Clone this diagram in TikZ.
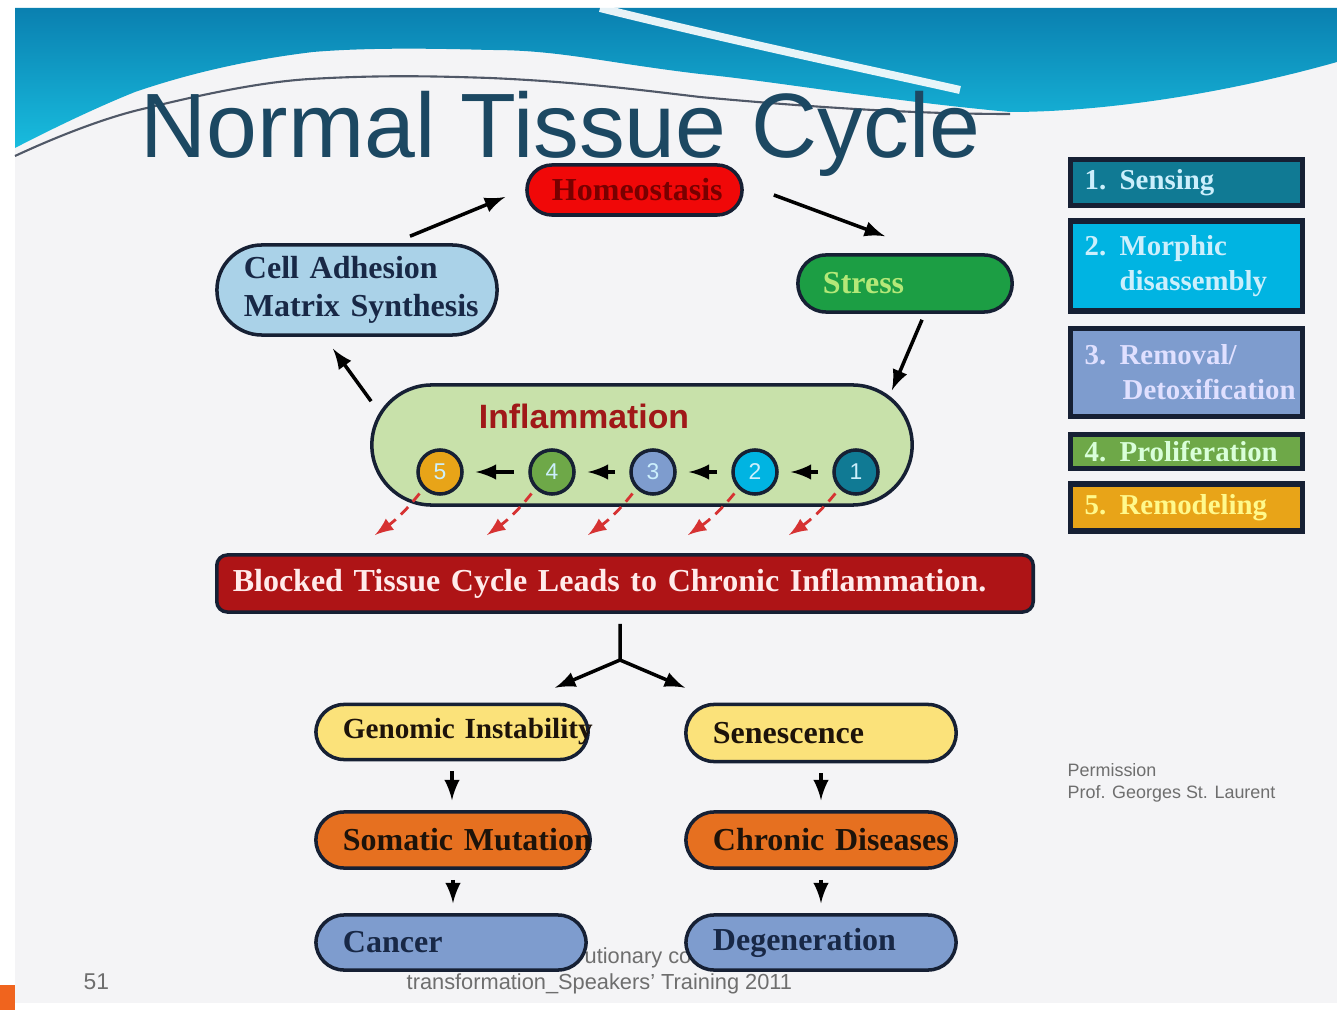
\documentclass[tikz,border=0pt]{standalone}
\usepackage{fontspec}
\setmainfont{Liberation Serif}
\setsansfont{Liberation Sans}
\usepackage{xcolor}
\usetikzlibrary{arrows}
\usetikzlibrary{calc, positioning}
\definecolor{slidebg}{RGB}{244,244,246}
\definecolor{wavedark}{RGB}{10,128,176}
\definecolor{wavelight}{RGB}{24,188,222}
\definecolor{titleblue}{RGB}{28,72,98}
\definecolor{pillline}{RGB}{22,32,52}
\definecolor{homred}{RGB}{240,8,8}
\definecolor{homtext}{RGB}{120,0,0}
\definecolor{celblue}{RGB}{170,210,232}
\definecolor{celtext}{RGB}{24,40,70}
\definecolor{stressgreen}{RGB}{28,158,68}
\definecolor{stresstext}{RGB}{180,232,120}
\definecolor{inflgreen}{RGB}{200,225,170}
\definecolor{infltext}{RGB}{160,24,24}
\definecolor{blockred}{RGB}{174,20,22}
\definecolor{genyellow}{RGB}{251,226,122}
\definecolor{somorange}{RGB}{230,112,32}
\definecolor{cancblue}{RGB}{126,156,206}
\definecolor{c1col}{RGB}{16,122,148}
\definecolor{c2col}{RGB}{0,180,226}
\definecolor{c3col}{RGB}{126,156,206}
\definecolor{c4col}{RGB}{110,168,72}
\definecolor{c5col}{RGB}{232,164,24}
\definecolor{dashred}{RGB}{214,50,50}
\definecolor{footgray}{RGB}{110,110,110}
\definecolor{tab}{RGB}{240,100,30}

\hyphenpenalty=10000
\exhyphenpenalty=10000
\newcommand\lblfont{\fontsize{9.1}{11}\selectfont\bfseries}
\newcommand\legfont{\fontsize{8.2}{10}\selectfont\bfseries}

\tikzset{
  pill/.style={rectangle, draw=pillline, line width=1pt, rounded corners=0.28cm,
    inner xsep=0.27cm, inner ysep=0pt, align=left, font=\lblfont},
  legbox/.style={rectangle, draw=pillline, line width=1.5pt, text width=2.04cm,
    inner xsep=0.14cm, inner ysep=0pt, align=left, font=\legfont},
  circ/.style={circle, draw=pillline, line width=1pt, minimum size=0.44cm, inner sep=0pt,
    font=\fontsize{6.5}{6.5}\selectfont\sffamily, text=white!80!cyan},
  cyc/.style={-latex, line width=1pt},
  dn/.style={-latex, line width=1pt, shorten <=0.1cm, shorten >=0.1cm},
  redarr/.style={-latex, densely dashed, draw=dashred, line width=0.8pt},
  foot/.style={font=\fontsize{6.2}{7}\selectfont\sffamily, text=footgray, inner sep=0pt}
}

\begin{document}
\begin{tikzpicture}[x=0.01cm, y=-0.01cm]
\useasboundingbox (0,0) rectangle (1337,1010);

% slide background
\fill[white] (0,0) rectangle (1337,1010);
\fill[slidebg] (15,8) rectangle (1337,1003);
\fill[tab] (0,985) rectangle (15,1010);

% wave banner
\shade[top color=wavedark, bottom color=wavelight] (15,8) -- (1337,8) -- (1337,62)
  .. controls (1220,95) and (1100,112) .. (1010,112)
  .. controls (880,100) and (780,82) .. (700,74)
  .. controls (600,62) and (560,50) .. (490,50)
  .. controls (420,48) and (360,48) .. (313,52)
  .. controls (230,62) and (170,80) .. (135,92)
  .. controls (90,110) and (40,135) .. (15,148) -- cycle;
\draw[white, line width=0.08cm, opacity=0.9] (600,8) .. controls (750,45) and (880,72) .. (960,90);
\draw[pillline!75, line width=0.6pt] (15,156) .. controls (60,135) and (110,116) .. (147,108)
  .. controls (200,95) and (260,82) .. (310,79)
  .. controls (380,75) and (430,76) .. (490,78)
  .. controls (580,82) and (640,90) .. (700,97)
  .. controls (820,108) and (920,114) .. (1010,114);

\node[anchor=base west, inner sep=0pt, font=\fontsize{26}{28}\selectfont\sffamily, text=titleblue]
  (title) at (140,158) {Normal Tissue Cycle};

% cycle
\node[pill, fill=homred, text=homtext, text width=1.65cm, inner xsep=0.25cm,
  minimum height=0.5cm, rounded corners=0.25cm] (homeo) at (634.5,190) {Homeostasis};
\node[pill, fill=celblue, text=celtext, text width=2.26cm, minimum height=0.9cm,
  rounded corners=0.45cm] (celladh) at (357,290) {Cell~Adhesion\\Matrix~Synthesis};
\node[pill, fill=stressgreen, text=stresstext, text width=1.64cm, inner xsep=0.25cm,
  minimum height=0.57cm] (stress) at (905,283.5) {Stress};
\node[pill, fill=inflgreen, minimum width=5.4cm, minimum height=1.2cm,
  rounded corners=0.6cm] (infl) at (642,445) {};
\node[font=\fontsize{9.6}{11}\selectfont\sffamily\bfseries, text=infltext] (infltxt) at (584,416) {Inflammation};

\node[circ, fill=c1col] (c1) at (856,472) {1};
\node[circ, fill=c2col] (c2) at (755,472) {2};
\node[circ, fill=c3col] (c3) at (653,472) {3};
\node[circ, fill=c4col] (c4) at (552,472) {4};
\node[circ, fill=c5col] (c5) at (440,472) {5};

\draw[-latex, line width=1pt] ([xshift=-0.14cm]c1.west) -- ([xshift=0.12cm]c2.east);
\draw[-latex, line width=1pt] ([xshift=-0.14cm]c2.west) -- ([xshift=0.12cm]c3.east);
\draw[-latex, line width=1pt] ([xshift=-0.14cm]c3.west) -- ([xshift=0.12cm]c4.east);
\draw[-latex, line width=1pt] ([xshift=-0.14cm]c4.west) -- ([xshift=0.12cm]c5.east);

\draw[cyc] ($(celladh.north)+(53,-7)$) -- ($(homeo.west)+(-20,7)$);
\draw[cyc] ($(homeo.east)+(30,5)$) -- ($(stress.north)+(-20,-17)$);
\draw[cyc] ($(stress.south)+(17,6)$) -- ($(infl.north east)+(-22,7)$);
\draw[cyc] ($(infl.north west)+(1,18)$) -- ($(celladh.south)+(-24,12)$);

% blocked steps
\coordinate (s1) at (789,535);
\coordinate (s2) at (688,535);
\coordinate (s3) at (588,535);
\coordinate (s4) at (487,535);
\coordinate (s5) at (375,535);
\draw[redarr, shorten <=0.06cm] (c1.225) to[bend left=8] (s1);
\draw[redarr, shorten <=0.06cm] (c2.225) to[bend left=8] (s2);
\draw[redarr, shorten <=0.06cm] (c3.225) to[bend left=8] (s3);
\draw[redarr, shorten <=0.06cm] (c4.225) to[bend left=8] (s4);
\draw[redarr, shorten <=0.06cm] (c5.225) to[bend left=8] (s5);

\node[pill, fill=blockred, text=white!92!red, rounded corners=3pt, text width=7.84cm,
  inner xsep=0.16cm, minimum height=0.57cm] (block) at (625,583.5)
  {Blocked Tissue Cycle Leads to Chronic Inflammation.};

% outcomes
\node[pill, fill=genyellow, text=black!85!brown, text width=2.18cm, minimum height=0.55cm,
  font=\fontsize{8.3}{10}\selectfont\bfseries] (gen) at (452,732) {Genomic~Instability};
\node[pill, fill=genyellow, text=black!85!brown, text width=2.16cm, minimum height=0.57cm] (sen) at (821,733) {Senescence};
\node[pill, fill=somorange, text=black!85!brown, text width=2.20cm, minimum height=0.56cm] (som) at (453,840) {Somatic~Mutation};
\node[pill, fill=somorange, text=black!85!brown, text width=2.16cm, minimum height=0.56cm] (chr) at (821,840) {Chronic~Diseases};

\node[foot, anchor=base west] (foot1) at (584,963) {utionary co};

\node[pill, fill=cancblue, text=celtext, text width=2.16cm, minimum height=0.55cm] (canc) at (451,942.5) {Cancer};
\node[pill, fill=cancblue, text=celtext, text width=2.16cm, minimum height=0.55cm] (degen) at (821,942.5) {Degeneration};

\coordinate (br) at (620,660);
\draw[line width=1pt] ([xshift=-0.05cm, yshift=-0.1cm]block.south) -- (br);
\draw[cyc] (br) -- ($(gen.north)+(103,-15)$);
\draw[cyc] (br) -- ($(sen.north)+(-136,-15)$);
\draw[dn] (gen.south) -- (gen.south |- som.north);
\draw[dn] (som.south) -- (som.south |- canc.north);
\draw[dn] (sen.south) -- (sen.south |- chr.north);
\draw[dn] (chr.south) -- (chr.south |- degen.north);

% legend
\node[legbox, fill=c1col, text=white!80!cyan, minimum height=0.46cm, anchor=north west] (leg1) at (1068,157)
  {\makebox[0.35cm][l]{1.}Sensing};
\node[legbox, fill=c2col, text=white!80!cyan, minimum height=0.9cm, below=0.1cm of leg1] (leg2)
  {\makebox[0.35cm][l]{2.}Morphic\\\hspace*{0.35cm}disassembly};
\node[legbox, fill=c3col, text=white!88!blue, minimum height=0.88cm, below=0.12cm of leg2] (leg3)
  {\makebox[0.35cm][l]{3.}Removal/\\\hspace*{0.38cm}\mbox{Detoxification}};
\node[legbox, fill=c4col, text=white!85!green, minimum height=0.34cm, below=0.13cm of leg3] (leg4)
  {\makebox[0.35cm][l]{4.}Proliferation};
\node[legbox, fill=c5col, text=yellow!45!white, minimum height=0.47cm, below=0.1cm of leg4] (leg5)
  {\makebox[0.35cm][l]{5.}Remodeling};

% credits and footer
\node[foot, anchor=base west, font=\fontsize{5.1}{6.2}\selectfont\sffamily, align=left] (perm) at (1067,798)
  {Permission\\Prof. Georges St. Laurent};
\node[foot, anchor=base west] (foot2) at (406,989) {transformation\_Speakers' Training 2011};
\node[foot, anchor=base west, font=\fontsize{6.5}{7}\selectfont\sffamily] (pagenum) at (83,989) {51};

\end{tikzpicture}
\end{document}
